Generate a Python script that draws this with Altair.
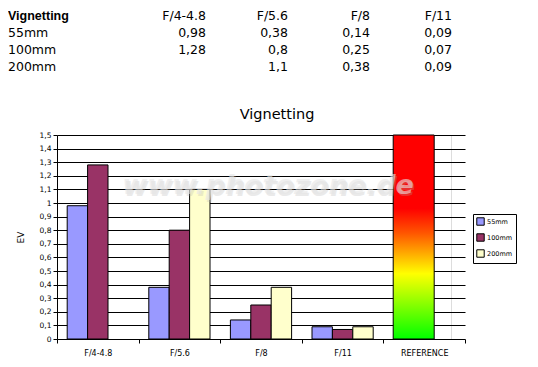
import altair as alt
import pandas as pd

# ---- data ----
apertures = ["F/4-4.8", "F/5.6", "F/8", "F/11"]
series = ["55mm", "100mm", "200mm"]
v55 = [0.98, 0.38, 0.14, 0.09]
v100 = [1.28, 0.8, 0.25, 0.07]
v200 = [None, 1.1, 0.38, 0.09]
reference_label = "REFERENCE"
reference_value = 1.5
table_title = "Vignetting"
chart_title = "Vignetting"
series_colors = ["#9999FF", "#993366", "#FFFFCC"]
watermark = "www.photozone.de"

all_values = [v55, v100, v200]

# long table for the bars
rows = []
for s, vals in zip(series, all_values):
    for a, v in zip(apertures, vals):
        if v is not None:
            rows.append({"cat": a, "series": s, "value": v})
bars_df = pd.DataFrame(rows)
ref_df = pd.DataFrame({"cat": [reference_label], "value": [reference_value]})

# table above the chart
cells = []
for c, a in enumerate(apertures):
    cells.append({"r": 0, "c": c, "text": a})
for r, vals in enumerate(all_values, start=1):
    for c, v in enumerate(vals):
        if v is not None:
            cells.append({"r": r, "c": c, "text": str(v).replace(".", ",")})
cells_df = pd.DataFrame(cells)
labels_df = pd.DataFrame({"r": list(range(1, len(series) + 1)), "text": series})
head_df = pd.DataFrame({"r": [0], "text": [table_title]})

FONT = "DejaVu Sans"
W, H = 394, 204

cat_domain = apertures + [reference_label]
xscale = alt.Scale(domain=cat_domain, range=[0, 408], paddingInner=0, paddingOuter=0)
yscale = alt.Scale(domain=[0, 1.5], nice=False, zero=True)
tick_vals = [round(i * 0.1, 1) for i in range(16)]

x_axis = alt.Axis(title=None, labelAngle=0, domain=False, tickBand="extent",
                  tickColor="black", tickSize=4, labelFont=FONT, labelFontSize=8,
                  labelColor="black", labelPadding=6, grid=False)
y_axis = alt.Axis(title="EV", values=tick_vals,
                  labelExpr="replace(format(datum.value, '.1~f'), '.', ',')",
                  grid=True, gridColor="black", gridWidth=1, gridOpacity=1,
                  domainColor="black", tickColor="black", tickSize=4,
                  labelFont=FONT, labelFontSize=7.5, labelColor="black", labelPadding=2,
                  titleFont=FONT, titleFontSize=9, titleFontWeight="normal",
                  titleColor="black", titlePadding=14)

bars = alt.Chart(bars_df).mark_bar(stroke="black", strokeWidth=1).encode(
    x=alt.X("cat:N", scale=xscale, axis=x_axis, sort=cat_domain),
    xOffset=alt.XOffset("series:N", scale=alt.Scale(domain=series, paddingInner=0, paddingOuter=0.5)),
    y=alt.Y("value:Q", scale=yscale, axis=y_axis),
    color=alt.Color("series:N", scale=alt.Scale(domain=series, range=series_colors),
                    legend=alt.Legend(title=None, orient="none", legendX=416, legendY=79,
                                      strokeColor="black", fillColor="white", padding=3,
                                      symbolType="square", symbolSize=55,
                                      symbolStrokeColor="black", symbolStrokeWidth=1,
                                      labelFont=FONT, labelFontSize=6.5, labelColor="black",
                                      rowPadding=3, labelOffset=2)),
)

grad = alt.Gradient(
    gradient="linear",
    stops=[alt.GradientStop(color="#00ff00", offset=0),
           alt.GradientStop(color="#ffff00", offset=0.32),
           alt.GradientStop(color="#ff5500", offset=0.52),
           alt.GradientStop(color="#ff0000", offset=0.64),
           alt.GradientStop(color="#ff0000", offset=1)],
    x1=0, x2=0, y1=1, y2=0,
)
ref = alt.Chart(ref_df).mark_bar(color=grad, stroke="black", strokeWidth=1, size=41, xOffset=-10.5).encode(
    x=alt.X("cat:N", scale=xscale, axis=x_axis, sort=cat_domain),
    y=alt.Y("value:Q", scale=yscale, axis=y_axis),
)

wm_df = pd.DataFrame({"t": [watermark]})
wm_shadow = alt.Chart(wm_df).mark_text(
    font=FONT, fontSize=27, fontWeight="bold", fontStyle="italic",
    color="#b0b0b0", opacity=0.25, align="center", baseline="middle", dx=1.5, dy=1.5
).encode(x=alt.value(211), y=alt.value(51), text="t:N")
wm = alt.Chart(wm_df).mark_text(
    font=FONT, fontSize=27, fontWeight="bold", fontStyle="italic",
    color="#e6e6e6", opacity=0.6, align="center", baseline="middle"
).encode(x=alt.value(211), y=alt.value(51), text="t:N")

title_layer = alt.Chart(pd.DataFrame({"t": [chart_title]})).mark_text(
    font=FONT, fontSize=14.5, color="black", align="center", baseline="alphabetic"
).encode(x=alt.value(220), y=alt.value(-16), text="t:N")

inner = alt.layer(bars, ref, wm_shadow, wm, title_layer)

ty = alt.Y("r:Q", scale=alt.Scale(domain=[0, 3], range=[-119, -68], zero=False, nice=False), axis=None)

cells_layer = alt.Chart(cells_df).mark_text(
    font=FONT, fontSize=12.5, align="right", baseline="middle", color="black"
).encode(
    x=alt.X("c:Q", scale=alt.Scale(domain=[0, 3], range=[149, 395], zero=False, nice=False), axis=None),
    y=ty, text="text:N",
)
labels_layer = alt.Chart(labels_df).mark_text(
    font=FONT, fontSize=12.5, align="left", baseline="middle", color="black"
).encode(x=alt.value(-49), y=ty, text="text:N")
head_layer = alt.Chart(head_df).mark_text(
    font="Liberation Sans", fontSize=12.5, fontWeight="bold", align="left", baseline="middle", color="black"
).encode(x=alt.value(-49), y=ty, text="text:N")

table = alt.layer(cells_layer, labels_layer, head_layer)

chart = alt.layer(inner, table).resolve_scale(x="independent", y="independent").properties(
    width=W, height=H,
    padding={"top": 2, "left": 0, "right": 0, "bottom": 0},
).configure_view(stroke=None).configure(background="white")

chart.save("out.html", embed_options={"renderer": "svg", "actions": False})
